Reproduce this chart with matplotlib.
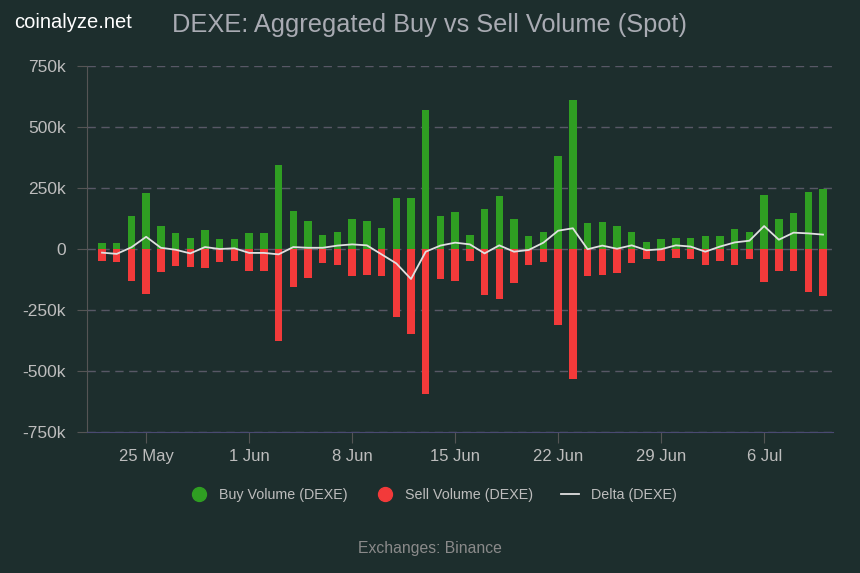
import numpy as np
import pandas as pd
import matplotlib
matplotlib.use("Agg")
import matplotlib.pyplot as plt
import matplotlib.dates as mdates
from matplotlib.lines import Line2D

plt.rcParams['font.family'] = ['Liberation Sans', 'DejaVu Sans']

# daily data, 22 May .. 10 Jul (values in thousands)
dates = pd.date_range("2025-05-22", "2025-07-10", freq="D")
buy = [23, 23, 135, 228, 94, 64, 46, 76, 41, 41,
       64, 64, 344, 157, 116, 57, 70, 123, 116, 87,
       210, 210, 570, 135, 152, 57, 164, 217, 123, 53,
       70, 381, 611, 105, 111, 94, 70, 29, 41, 46,
       46, 53, 53, 82, 70, 221, 123, 146, 234, 246]
sell = [48, 53, 131, 183, 94, 71, 72, 78, 53, 48,
        90, 90, 376, 154, 119, 59, 66, 112, 107, 112,
        277, 348, 594, 123, 130, 48, 187, 205, 141, 64,
        53, 311, 534, 111, 107, 100, 57, 41, 48, 36,
        41, 64, 48, 64, 41, 135, 89, 89, 176, 194]
delta = [-15, -20, 7, 50, 5, -3, -18, 8, 0, 3,
         -16, -16, -22, 8, 5, 5, 14, 19, 15, -22,
         -59, -123, -11, 14, 26, 19, -18, 15, -11, -4,
         26, 75, 85, -1, 14, 1, 15, -5, -1, 15,
         10, -11, 10, 27, 34, 94, 38, 67, 64, 59]
yticks = [-750, -500, -250, 0, 250, 500, 750]
ylabels = ["-750k", "-500k", "-250k", "0", "250k", "500k", "750k"]
xtick_dates = pd.to_datetime(["2025-05-25", "2025-06-01", "2025-06-08", "2025-06-15",
                              "2025-06-22", "2025-06-29", "2025-07-06"])
xlabels = ["25 May", "1 Jun", "8 Jun", "15 Jun", "22 Jun", "29 Jun", "6 Jul"]

bg = "#1d2e2d"
green = "#2f9e22"
red = "#f23a3a"

fig = plt.figure(figsize=(8.6, 5.73), dpi=100, facecolor=bg)
ax = fig.add_axes([87/860, 1-432/573, (833-87)/860, (432-66)/573])
ax.set_facecolor(bg)

x = mdates.date2num(dates)
buy = np.array(buy) * 1000
sell = np.array(sell) * 1000
delta = np.array(delta) * 1000

for yv in yticks:
    ax.axhline(yv*1000, color="#585866", lw=1, ls=(0, (6, 4)), zorder=0)

ax.bar(x, buy, width=0.5, color=green, zorder=2)
ax.bar(x, -sell, width=0.5, color=red, zorder=2)
ax.plot(x, delta, color="#e0e0e0", lw=1.3, zorder=3)

ax.set_ylim(-750000, 750000)
ax.set_xlim(x[0]-1.02, x[-1]+0.68)
ax.set_yticks([v*1000 for v in yticks])
ax.set_yticklabels(ylabels)
ax.set_xticks(mdates.date2num(xtick_dates))
ax.set_xticklabels(xlabels)
ax.tick_params(axis="y", colors="#555555", labelcolor="#bdbdbd", labelsize=12.5, length=7, pad=8)
ax.tick_params(axis="x", colors="#555555", labelcolor="#bdbdbd", labelsize=12, length=8, pad=4)

for s in ["top", "right"]:
    ax.spines[s].set_visible(False)
ax.spines["left"].set_color("#555555")
ax.spines["bottom"].set_color("#4a4a72")

fig.text(14/860, 1-22/573, "coinalyze.net", color="white", fontsize=14.5, va="center", ha="left")
fig.text(430/860, 1-25/573, "DEXE: Aggregated Buy vs Sell Volume (Spot)", color="#a9abb3",
         fontsize=18.3, va="center", ha="center")

handles = [
    Line2D([], [], marker="o", ls="none", color=green, markersize=10),
    Line2D([], [], marker="o", ls="none", color=red, markersize=10),
    Line2D([], [], color="#e0e0e0", lw=1.3),
]
fig.legend(handles, ["Buy Volume (DEXE)", "Sell Volume (DEXE)", "Delta (DEXE)"],
           loc="center", bbox_to_anchor=(433/860, 1-495/573), ncol=3, frameon=False,
           labelcolor="#bdbdbd", fontsize=10.3, handlelength=1.3, columnspacing=1.9)

fig.text(430/860, 1-549/573, "Exchanges: Binance", color="#8a8a8a", fontsize=11.3, ha="center", va="center")

fig.savefig("out.png", dpi=100, facecolor=bg)
